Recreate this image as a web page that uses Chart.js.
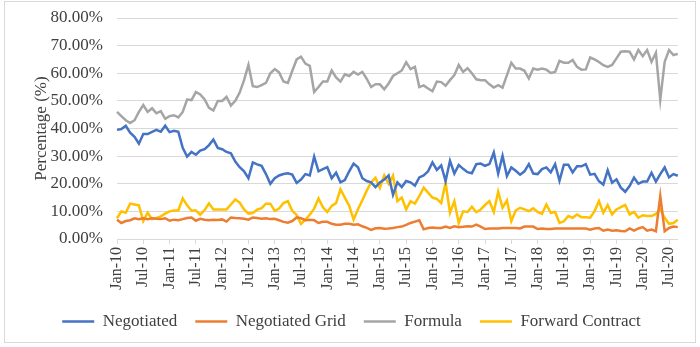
<!DOCTYPE html>
<html lang="en">
<head>
<meta charset="UTF-8">
<title>Share of Purchases by Marketing Arrangement</title>
<script src="https://cdn.jsdelivr.net/npm/chart.js"></script>
<style>
  body { margin: 0; background: #fff; }
  #wrap { width: 700px; height: 347px; }
</style>
</head>
<body>
<div id="wrap"><canvas id="shareChart" width="700" height="347"></canvas></div>
<script>
// Monthly categories, Jan-10 through Sep-20
const MONTHS = ['Jan', 'Feb', 'Mar', 'Apr', 'May', 'Jun', 'Jul', 'Aug', 'Sep', 'Oct', 'Nov', 'Dec'];
const YEARS = ['10', '11', '12', '13', '14', '15', '16', '17', '18', '19', '20'];
const LAST_MONTH_2020 = 9;
const labels = [];
YEARS.forEach(y => {
  const n = y === '20' ? LAST_MONTH_2020 : 12;
  for (let m = 0; m < n; m++) labels.push(MONTHS[m] + '-' + y);
});

// Shares in percent
const negotiated = [
  39.5, 39.8, 41, 38.5, 37, 34.5, 38, 38, 38.8, 39.5, 38.8, 41,
  38.7, 39.2, 38.8, 33, 29.8, 31.5, 30.5, 32, 32.5, 34, 36, 33,
  32.5, 31.5, 31, 28, 26, 24.5, 22, 27.7, 27, 26.5, 23.5, 20,
  22, 23, 23.5, 23.8, 23.3, 20.3, 21.5, 23.5, 23, 29.8, 24.5, 25.3,
  26, 22, 24, 20.5, 21.3, 24.5, 27.3, 26, 22, 21, 20.5, 18.8,
  20.5, 21.5, 23, 16, 20.5, 18.8, 21, 20.5, 19.3, 22.3, 23, 24.5,
  27.7, 25, 26.6, 21, 28.3, 23.7, 26.8, 25.4, 24.2, 23.8, 27.1, 27.3,
  26.5, 27.1, 31.3, 23.7, 30.1, 22.8, 25.9, 24.7, 23.3, 24.5, 27.1, 23.7,
  23.5, 25.3, 25.9, 24.1, 27.1, 21.1, 26.9, 26.9, 24.1, 26.3, 26.3, 27.1,
  23.3, 23.6, 20.9, 19.7, 24.9, 20.4, 21.6, 18.6, 17.1, 19.2, 22.2, 20,
  20.8, 20.8, 24, 20.8, 23.5, 25.9, 22.3, 23.5, 22.9
];
const negotiatedGrid = [
  7, 5.8, 6.5, 6.8, 7.5, 7.2, 7.5, 7.2, 7.5, 7.3, 7.2, 7.5,
  6.6, 7, 6.8, 7.2, 7.6, 7.8, 6.6, 7.3, 7, 6.8, 7, 6.9,
  7.1, 6.3, 7.8, 7.6, 7.5, 7.3, 7, 7.8, 7.6, 7.3, 7.5, 7.2,
  7.3, 6.8, 6.2, 5.9, 6.5, 7.8, 7.5, 6.8, 7, 6.8, 5.8, 6.2,
  6.2, 5.5, 5.2, 5.2, 5.5, 5.5, 5.2, 5.3, 4.6, 4, 3.3, 3.9,
  4, 3.7, 3.8, 4, 4.3, 4.5, 5.1, 5.8, 6.3, 6.8, 3.5, 4,
  4.2, 4, 4, 4.5, 4, 4.6, 4.3, 4.4, 4.6, 4.5, 5.2, 4.5,
  3.6, 3.8, 3.8, 3.8, 4, 4, 4, 4, 3.8, 4.5, 4.5, 4.5,
  3.6, 3.8, 3.6, 3.6, 3.8, 3.8, 3.8, 3.8, 3.8, 3.8, 3.8, 3.8,
  3.4, 3.8, 4, 3, 3.4, 3, 3.2, 2.9, 2.8, 3.8, 3, 3.8,
  4.3, 3, 3.4, 2.8, 15.6, 2.8, 4, 4.5, 4.3
];
const formula = [
  46, 44.5, 43, 42, 43, 46, 48.5, 46, 47.3, 45.5, 46.3, 43.5,
  44.5, 44.8, 44, 46, 50.5, 50.3, 53.2, 52.3, 50.5, 47.5, 46.5, 50,
  50, 51.5, 48.3, 50, 53, 57.5, 63, 55.3, 55, 55.7, 56.5, 60,
  61.5, 60.3, 57, 56.5, 60.8, 65, 66, 63.5, 62.7, 53.2, 55, 57,
  57, 61, 58.5, 57, 59.6, 59, 60.5, 59.5, 60.5, 58, 55, 56,
  56, 54.2, 56.3, 59, 60, 61, 64, 61.5, 62.3, 55, 55.6, 54.5,
  53.5, 57, 56.8, 55.5, 57.5, 59.3, 63, 60.5, 61.8, 60, 57.8, 57.5,
  57.5, 56, 54.8, 55.7, 54.8, 59.3, 63.8, 61.7, 61.7, 60.9, 58.1, 61.7,
  61.3, 61.7, 61.3, 60.1, 60.5, 64.5, 63.8, 63.8, 64.8, 62.3, 61.3, 61.4,
  65.7, 65, 64.1, 62.9, 62.3, 63, 65.4, 67.8, 68, 67.8, 65, 68.4,
  66.2, 68.4, 64.1, 67.4, 50.4, 64.1, 68.4, 66.6, 67
];
const forwardContract = [
  7.5, 10, 9.5, 12.8, 12.5, 12.2, 6.5, 9.5, 7.2, 7.6, 8.2, 9.2,
  10, 10.3, 10.3, 14.7, 12.2, 10.3, 10.3, 8.8, 10.5, 12.9, 10.7, 10.7,
  10.7, 10.7, 12.5, 14.3, 13.2, 10.7, 9.2, 9.4, 10.6, 11.2, 12.8, 12.8,
  10.2, 11, 13, 13.7, 10.2, 8.7, 5.5, 7, 8.8, 11, 14.7, 11.5,
  9.8, 12, 13, 18, 15, 12, 7, 10.8, 14, 17.5, 20.5, 22.2,
  18.5, 23, 20, 23, 13.7, 15, 10.7, 13.7, 12.8, 15.5, 18.6, 16.8,
  15, 14.5, 13, 20.4, 9.5, 13.7, 5.8, 10, 9.8, 11.7, 9.7, 10.7,
  12.3, 13.7, 9.8, 17.1, 11.3, 14, 6.4, 10.3, 11.3, 10.7, 10.1, 11.1,
  9.8, 9.1, 12.5, 9.5, 9.8, 5.8, 6.4, 8.3, 7.7, 8.9, 7.9, 7.9,
  7.7, 10.1, 13.7, 9.5, 12.3, 8.9, 10.7, 11.5, 12.3, 8.9, 9.8, 7.7,
  8.6, 8.3, 8.3, 9.1, 10.7, 7.7, 5.5, 5.8, 7
];
const yTicks = [0, 10, 20, 30, 40, 50, 60, 70, 80];

const TEXT = '#404040';
const GRID = '#d9d9d9';
const SERIF = "'Liberation Serif', 'Times New Roman', serif";

Chart.defaults.font.family = SERIF;
Chart.defaults.color = TEXT;

function line(label, data, color) {
  return {
    label, data,
    borderColor: color,
    backgroundColor: color,
    borderWidth: 2.5,
    pointRadius: 0,
    pointHoverRadius: 0,
    tension: 0,
    fill: false,
    pointStyle: 'line'
  };
}

// white background and light outer frame
const chartFrame = {
  id: 'chartFrame',
  beforeDraw(chart) {
    const c = chart.ctx;
    c.save();
    c.fillStyle = '#fff';
    c.fillRect(0, 0, chart.width, chart.height);
    c.strokeStyle = GRID;
    c.lineWidth = 1;
    c.strokeRect(4.5, 1.5, 691, 341);
    c.restore();
  }
};

const ctx = document.getElementById('shareChart').getContext('2d');
const myChart = new Chart(ctx, {
  type: 'line',
  data: {
    labels: labels,
    datasets: [
      line('Negotiated', negotiated, '#4472C4'),
      line('Negotiated Grid', negotiatedGrid, '#ED7D31'),
      line('Formula', formula, '#A5A5A5'),
      line('Forward Contract', forwardContract, '#FFC000')
    ]
  },
  options: {
    responsive: false,
    animation: false,
    layout: { padding: { left: 25, right: 22, top: 18, bottom: 7 } },
    plugins: {
      tooltip: { enabled: false },
      legend: {
        position: 'bottom',
        labels: {
          usePointStyle: true,
          pointStyleWidth: 32,
          padding: 18,
          color: TEXT,
          font: { family: SERIF, size: 17 }
        }
      }
    },
    scales: {
      x: {
        offset: false,
        afterFit: s => { s.height = 56; },
        border: { display: true, color: GRID, width: 1 },
        grid: {
          drawOnChartArea: false,
          tickLength: 5,
          color: c => (c.index % 6 === 0 ? GRID : 'rgba(0,0,0,0)')
        },
        ticks: {
          autoSkip: false,
          minRotation: 90,
          maxRotation: 90,
          padding: 3,
          color: TEXT,
          font: { family: SERIF, size: 16 },
          callback: (v, i) => (i % 6 === 0 ? labels[i] : '')
        }
      },
      y: {
        min: yTicks[0],
        max: yTicks[yTicks.length - 1],
        afterFit: s => {
          s.width = 92;
          // keep the plot edges set by the layout padding only
          s.paddingTop = 0;
          s.paddingBottom = 0;
        },
        afterBuildTicks: s => { s.ticks = yTicks.map(v => ({ value: v })); },
        border: { display: false },
        grid: { color: GRID, drawTicks: false },
        ticks: {
          padding: 14,
          color: TEXT,
          font: { family: SERIF, size: 17 },
          callback: v => v.toFixed(2) + '%'
        },
        title: {
          display: true,
          text: 'Percentage (%)',
          color: TEXT,
          padding: { top: 6, bottom: 0 },
          font: { family: SERIF, size: 17 }
        }
      }
    }
  },
  plugins: [chartFrame]
});
</script>
</body>
</html>
